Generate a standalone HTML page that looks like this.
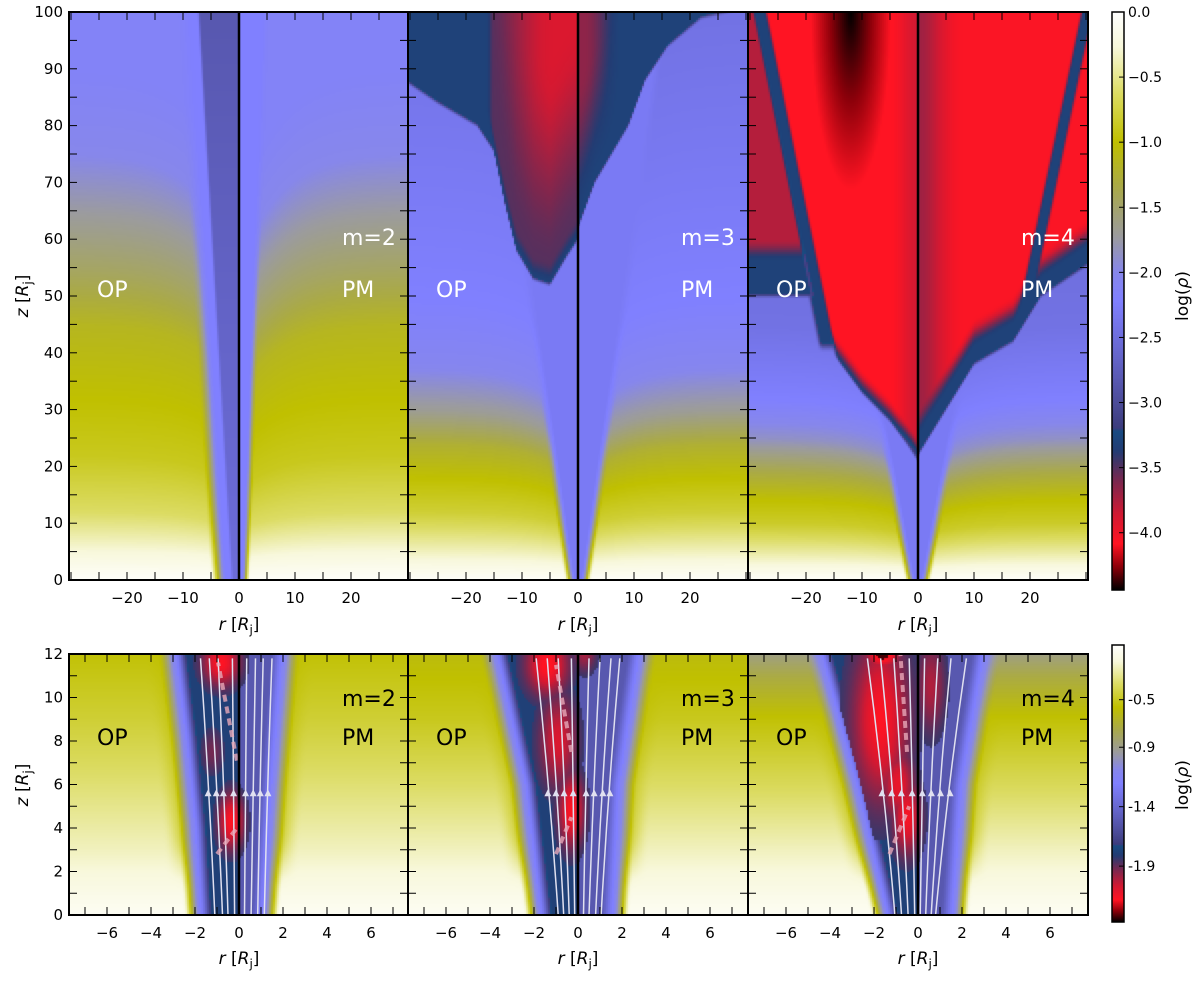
<!DOCTYPE html>
<html><head><meta charset="utf-8"><style>
body{margin:0;background:#fff;}
#wrap{position:relative;width:1200px;height:982px;overflow:hidden;}
#fieldCanvas{position:absolute;left:0;top:0;}
#overlaySvg{position:absolute;left:0;top:0;}
text{font-family:"DejaVu Sans","Liberation Sans",sans-serif;}
</style></head><body>
<div id="wrap">
<canvas id="fieldCanvas" width="1200" height="982"></canvas>
<svg id="overlaySvg" xmlns="http://www.w3.org/2000/svg" width="1200" height="982"></svg>
</div>
<script>
// ---- data arrays ----
var panelModes = [2,3,4];
var topZTicks = [0,10,20,30,40,50,60,70,80,90,100];
var topRTicks = [-20,-10,0,10,20];
var botZTicks = [0,2,4,6,8,10,12];
var botRTicks = [-6,-4,-2,0,2,4,6];
var topCbTicks = [0.0,-0.5,-1.0,-1.5,-2.0,-2.5,-3.0,-3.5,-4.0];
var botCbTicks = [-0.5,-0.9,-1.4,-1.9];
var topCbRange = [0.0,-4.44];
var botCbRange = [-0.04,-2.37];
var L3blue = [[-31,88],[-25,84],[-18,80],[-14,74],[-12,72]];
var L3red = [[-16,80],[-13,66],[-11,58],[-8,53],[-5,52],[-2,57],[0,60]];
var R3blue = [[0,62],[3,70],[6,75],[9,80],[12,88],[16,94],[22,99],[31,101]];
var L4red = [[-31,41],[-16,41],[-10,33],[-5,28],[-2,24],[0,21]];
var R4red = [[0,22],[5,30],[10,38],[17,42],[22,50],[31,56]];
var topBg = {2:[[0,.01],[5,.06],[12,.14],[22,.2],[32,.225],[45,.26],[55,.33],[65,.39],[75,.45],[90,.48],[100,.48]],
 3:[[0,.01],[5,.08],[12,.18],[18,.225],[24,.28],[30,.38],[38,.46],[50,.5],[100,.55]],
 4:[[0,.01],[5,.1],[10,.19],[14,.225],[19,.3],[25,.42],[32,.5],[45,.55],[100,.6]]};
var botBg = {2:[[0,.02],[3,.08],[6,.13],[9,.18],[12,.22]],3:[[0,.02],[3,.08],[6,.14],[9,.2],[12,.24]],4:[[0,.02],[3,.08],[6,.15],[9,.22],[11,.3],[12,.36]]};
var colL = {2:[[0,-1.75],[4,-2.0],[8,-2.4],[12,-2.9]],3:[[0,-1.7],[6,-2.4],[12,-3.7]],4:[[0,-1.4],[6,-2.8],[12,-4.4]]};
var colR = {2:[[0,1.1],[6,1.5],[12,2.0]],3:[[0,1.6],[6,1.9],[12,2.8]],4:[[0,1.6],[6,2.0],[12,3.0]]};
var blobs = {2:[[-0.35,4.3,0.55,1.2,1],[-0.8,11.6,0.8,1.0,1],[-1.2,7.5,0.5,1,0.3]],
 3:[[-0.3,4.8,0.55,1.6,1],[-1.4,11.5,0.9,1.3,1.05],[-0.9,8,0.8,2,0.75],[0.3,12,0.5,0.8,0.5]],
 4:[[-1.7,9,1.2,3.5,1.0],[-0.5,4.5,0.6,1.6,0.95],[-1.6,12,0.7,0.6,1.3],[-0.9,6,0.7,1.5,0.85],[0.6,10.5,0.6,2,0.55]]};
var streamL = {2:[[-1.1,-1.75],[-0.75,-1.35],[-0.5,-0.95],[-0.2,-0.3]],3:[[-0.9,-1.9],[-0.65,-1.4],[-0.4,-0.9],[-0.15,-0.3]],4:[[-1.05,-2.3],[-0.75,-1.7],[-0.45,-1.1],[-0.15,-0.4]]};
var streamR = {2:[[0.25,0.35],[0.55,0.75],[0.85,1.1],[1.15,1.5]],3:[[0.25,0.5],[0.5,1.0],[0.8,1.5],[1.05,1.9]],4:[[0.1,0.3],[0.35,0.9],[0.6,1.5],[0.8,2.2]]};
var dashes = {2:[[-1.0,2.8,-0.1,4.0],[-0.1,7.1,-0.95,11.6]],3:[[-1.0,2.8,-0.3,4.5],[-0.3,7.5,-1.0,11.5]],4:[[-1.3,2.8,-0.4,5.0],[-0.5,7.5,-0.8,12]]};
var cmapStops = [[0,255,255,255],[.06,248,248,220],[.14,220,220,100],[.225,192,192,0],[.3,170,170,70],[.39,155,155,160],[.45,135,135,235],[.5,128,128,255],[.6,100,100,200],[.68,75,75,150],[.72,60,60,125],[.725,25,75,130],[.76,35,60,115],[.81,120,40,80],[.87,210,25,50],[.92,255,20,35],[.96,140,0,10],[1,0,0,0]];

var TOPP={y0:12,y1:580,zmax:100,sx:5.6};
var BOTP={y0:654,y1:915,zmax:12,sx:22};
var px0=[69,408,748], px1=[408,748,1088], cxs=[239,578,918];
function topY(z){return TOPP.y1-z*(TOPP.y1-TOPP.y0)/TOPP.zmax;}
function botY(z){return BOTP.y1-z*(BOTP.y1-BOTP.y0)/BOTP.zmax;}
function ss(a,b,x){var t=(x-a)/(b-a);t=t<0?0:t>1?1:t;return t*t*(3-2*t);}
function lin(p,x){if(x<=p[0][0])return p[0][1];for(var i=1;i<p.length;i++){if(x<=p[i][0]){var a=p[i-1],b=p[i];return a[1]+(b[1]-a[1])*(x-a[0])/(b[0]-a[0]);}}return p[p.length-1][1];}
function mix(a,b,w){return a+(b-a)*w;}
function cmap(f){f=Math.max(0,Math.min(1,f));for(var i=1;i<cmapStops.length;i++){if(f<=cmapStops[i][0]){var a=cmapStops[i-1],b=cmapStops[i];var w=(f-a[0])/(b[0]-a[0]);return [mix(a[1],b[1],w),mix(a[2],b[2],w),mix(a[3],b[3],w)];}}return [0,0,0];}

function topF(m,r,z){
 var a=Math.abs(r);
 var ze=z*(1+0.35*Math.exp(-a/6));
 var f=lin(topBg[m],ze), w, zb, zr, v;
 if(m===2){
  if(r<0){w=1.2+0.06*z;f=mix(f,.5,1-ss(w+1,w+4,a));f=mix(f,.57+.07*z/100,1-ss(w-0.3,w+0.3,a));}
  else{w=0.5+0.035*z;f=mix(f,.5,1-ss(w,w+1.5,a));}
 }else{
  var k=m===3?0.14:0.18;w=0.5+k*z;f=mix(f,.52,1-ss(w,w+2,a));
 }
 if(m===3){
  if(r<0){
   zb=lin(L3blue,r);f=mix(f,.745,ss(zb-.5,zb+.5,z)*(1-ss(-12.5,-11.5,r)));
   zr=lin(L3red,r);w=ss(zr-.5,zr+.5,z)*ss(-16.5,-15,r);
   v=.79+.09*ss(zr+2,zr+40,z)*ss(-17,-4,r);
   v=mix(.745,v,ss(zr,zr+4,z));
   f=mix(f,v,w);
  }else{
   zb=lin(R3blue,r);v=.745+.08*ss(8,1,r)*ss(zb,zb+25,z);f=mix(f,v,ss(zb-.5,zb+.5,z));
  }
 }
 if(m===4){
  if(r<0){
   var rl=-16-(z-41)*12/58;var zA=lin(L4red,r);
   var inA=ss(rl+0.5,rl+1.5,r)*ss(zA-.5,zA+.5,z);
   var inB=(1-ss(rl-1.5,rl-0.5,r))*ss(49.5,50.5,z);
   var band=(1-ss(1,2,Math.abs(r-rl)))*ss(40,42,z);
   var vA=.92-.175*(1-ss(zA,zA+4,z))-.05*ss(-5,0,r);
   var q1=(r+12)/5.5,q2=(z-100)/24;
   var dd=Math.sqrt(q1*q1+q2*q2);
   if(dd<1.3)vA=Math.max(vA,.92+.08*(1-dd/1.3));
   var vB=mix(.745,.85,ss(56,60,z));
   f=mix(f,.745,band*(1-inA)*(1-inB));f=mix(f,vA,inA);f=mix(f,vB,inB);
  }else{
   zb=lin(R4red,r);v=.745+(.17-.08*ss(8,0,r))*ss(zb+3,zb+8,z);
   if(z>43){var rl2=18+(z-43)*12/56;v=mix(v,.745,1-ss(0.6,1.4,Math.abs(r-rl2)));}
   f=mix(f,v,ss(zb-.5,zb+.5,z));
  }
 }
 return f;
}
function botF(m,r,z){
 var bg=lin(botBg[m],z);
 var L=lin(colL[m],z),R=lin(colR[m],z);
 var d=Math.min(r-L,R-r);
 bg=mix(bg,Math.max(bg,.225),(1-ss(0,1.5,-d))*ss(1,4,z));
 var inner=r<0?.75:.64;
 var f=d>0?mix(.5,inner,ss(0,0.6,d)):mix(bg,.47,ss(-0.8,0,d));
 var bl=blobs[m];
 for(var i=0;i<bl.length;i++){var b=bl[i];var q=(r-b[0])/b[2],p=(z-b[1])/b[3];var g=b[4]*Math.exp(-q*q-p*p);if(g>0.08&&d>0.2)f=Math.max(f,.76+.16*Math.min(g,1)+(g>1.1?.06:0));}
 return f;
}

// ---- SVG overlay ----
var NS='http://www.w3.org/2000/svg';
var svgRoot=document.getElementById('overlaySvg');
function mk(tag,attrs,parent){var e=document.createElementNS(NS,tag);for(var k in attrs)e.setAttribute(k,attrs[k]);(parent||svgRoot).appendChild(e);return e;}
function tx(x,y,s,attrs){var a={x:x,y:y};for(var k in attrs)a[k]=attrs[k];var t=mk('text',a);t.textContent=s;return t;}
function tsp(parent,s,attrs){var t=mk('tspan',attrs||{},parent);t.textContent=s;return t;}
function rLabel(t){tsp(t,'r',{'font-style':'italic'});tsp(t,' [');tsp(t,'R',{'font-style':'italic'});tsp(t,'j',{'font-size':12,dy:4});tsp(t,']',{dy:-4});}
function zLabel(t){tsp(t,'z',{'font-style':'italic'});tsp(t,' [');tsp(t,'R',{'font-style':'italic'});tsp(t,'j',{'font-size':12,dy:4});tsp(t,']',{dy:-4});}
function fmt(v){return (v<0?'\u2212':'')+Math.abs(v);}

try{
for(var i=0;i<3;i++){
 var m=panelModes[i],cx=cxs[i],x0=px0[i],x1=px1[i];
 var g=mk('g',{});
 
 
 var sl=streamL[m].concat(streamR[m]);
 for(var j=0;j<sl.length;j++){var s=sl[j];
  var xa=cx+s[0]*BOTP.sx,xb=cx+s[1]*BOTP.sx,xm=cx+(s[0]*0.6+s[1]*0.4)*BOTP.sx;
  mk('path',{d:'M'+xa+','+BOTP.y1+' Q'+xm+','+botY(6)+' '+xb+','+botY(11.8),stroke:'#e0e0f0',fill:'none','stroke-width':1.5},g);
  var xr=cx+(s[0]+(s[1]-s[0])*0.47)*BOTP.sx,ya=botY(5.6);
  mk('path',{d:'M'+(xr-3.5)+','+(ya+3)+' L'+(xr+3.5)+','+(ya+3)+' L'+xr+','+(ya-4)+' Z',fill:'#e0e0f0'},g);
 }
 var ds=dashes[m];
 for(j=0;j<ds.length;j++){var dq=ds[j];mk('line',{x1:cx+dq[0]*BOTP.sx,y1:botY(dq[1]),x2:cx+dq[2]*BOTP.sx,y2:botY(dq[3]),stroke:'#e8a8b8','stroke-width':4,'stroke-dasharray':'7,5',opacity:0.8},g);}
 var PP=[TOPP,BOTP];
 for(j=0;j<2;j++){var P=PP[j];
  var l=mk('line',{x1:cx,y1:P.y0,x2:cx,y2:P.y1,stroke:'#000','stroke-width':2.5});
  
  
  var fr=mk('rect',{x:x0,y:P.y0,width:x1-x0,height:P.y1-P.y0,fill:'none',stroke:'#000','stroke-width':2});
  
  
 }
 for(var r=-30;r<=30;r+=5){var x=cx+r*TOPP.sx;if(x<=x0+1||x>=x1-1)continue;
  mk('line',{x1:x,y1:TOPP.y1,x2:x,y2:TOPP.y1-8,stroke:'#000'});
  mk('line',{x1:x,y1:TOPP.y0,x2:x,y2:TOPP.y0+8,stroke:'#000'});}
 for(j=0;j<topRTicks.length;j++){var t1=tx(cx+topRTicks[j]*TOPP.sx,603,fmt(topRTicks[j]),{'font-size':15,'text-anchor':'middle'});
  
  }
 for(r=-7;r<=7;r++){x=cx+r*BOTP.sx;
  mk('line',{x1:x,y1:BOTP.y1,x2:x,y2:BOTP.y1-8,stroke:'#000'});
  mk('line',{x1:x,y1:BOTP.y0,x2:x,y2:BOTP.y0+8,stroke:'#000'});}
 for(j=0;j<botRTicks.length;j++){var t2=tx(cx+botRTicks[j]*BOTP.sx,938,fmt(botRTicks[j]),{'font-size':15,'text-anchor':'middle'});
  
  }
 for(var z=5;z<100;z+=5){var y=topY(z);
  mk('line',{x1:x0,y1:y,x2:x0+8,y2:y,stroke:'#000'});mk('line',{x1:x1,y1:y,x2:x1-8,y2:y,stroke:'#000'});}
 for(z=1;z<12;z++){y=botY(z);
  mk('line',{x1:x0,y1:y,x2:x0+8,y2:y,stroke:'#000'});mk('line',{x1:x1,y1:y,x2:x1-8,y2:y,stroke:'#000'});}
 var tys=[630,964];
 for(j=0;j<2;j++){var tt=mk('text',{x:cx,y:tys[j],'text-anchor':'middle','font-size':17,'font-family':'Liberation Serif, serif'});
  rLabel(tt);
  
  }
 var dx=x0-69;
 var a1=tx(342+dx,245,'m='+m,{'font-size':22,fill:'#fff'});
 var a2=tx(97+dx,297,'OP',{'font-size':22,fill:'#fff'});
 var a3=tx(342+dx,297,'PM',{'font-size':22,fill:'#fff'});
 var b1=tx(342+dx,706,'m='+m,{'font-size':22,fill:'#000'});
 var b2=tx(97+dx,745,'OP',{'font-size':22,fill:'#000'});
 var b3=tx(342+dx,745,'PM',{'font-size':22,fill:'#000'});
}
for(i=0;i<topZTicks.length;i++){var ta=tx(63,topY(topZTicks[i])+5,String(topZTicks[i]),{'font-size':15,'text-anchor':'end'});
 
 }
for(i=0;i<botZTicks.length;i++){var tb=tx(63,botY(botZTicks[i])+5,String(botZTicks[i]),{'font-size':15,'text-anchor':'end'});
 
 }
var ycs=[296,785];
for(i=0;i<2;i++){var tz=mk('text',{x:0,y:0,'text-anchor':'middle','font-size':17,transform:'translate(28,'+ycs[i]+') rotate(-90)','font-family':'Liberation Serif, serif'});
 zLabel(tz);
 
 }
function cbar(y0,y1,range,ticks,labY,dec){
 var rr=mk('rect',{x:1112,y:y0,width:12,height:y1-y0,fill:'none',stroke:'#000','stroke-width':1.5});
 
 
 for(var q=0;q<ticks.length;q++){var v=ticks[q];var yy=y0+(v-range[0])/(range[1]-range[0])*(y1-y0);
  mk('line',{x1:1124,y1:yy,x2:1119,y2:yy,stroke:'#000'});
  var s=dec?(v<0?'\u2212':'')+Math.abs(v).toFixed(1):String(v);
  var tl=tx(1128,yy+5,s,{'font-size':14});
  
  }
 var tc=mk('text',{x:0,y:0,'text-anchor':'middle','font-size':17,transform:'translate(1188,'+labY+') rotate(-90)','font-family':'Liberation Serif, serif'});
 tsp(tc,'log(');tsp(tc,'\u03c1',{'font-style':'italic'});tsp(tc,')');
 
 
}
cbar(12,590,topCbRange,topCbTicks,296,true);
cbar(645,922,botCbRange,botCbTicks,785,false);
}catch(e){}

// ---- fields on canvas ----
try{
var cnv=document.getElementById('fieldCanvas');
var ctx2=cnv.getContext('2d');
ctx2.fillStyle='#fff';ctx2.fillRect(0,0,1200,982);
function paint(xa,xb,ya,yb,fn){
 for(var y=ya;y<yb;y+=2){for(var x=xa;x<xb;x+=2){var c=cmap(fn(x+1,y+1));
  ctx2.fillStyle='rgb('+Math.round(c[0])+','+Math.round(c[1])+','+Math.round(c[2])+')';
  ctx2.fillRect(x,y,Math.min(2,xb-x),Math.min(2,yb-y));}}
}
for(var pi=0;pi<3;pi++){(function(pi){var m=panelModes[pi],cx=cxs[pi];
 paint(px0[pi],px1[pi],TOPP.y0,TOPP.y1,function(x,y){return topF(m,(x-cx)/TOPP.sx,(TOPP.y1-y)*TOPP.zmax/(TOPP.y1-TOPP.y0));});
 paint(px0[pi],px1[pi],BOTP.y0,BOTP.y1,function(x,y){return botF(m,(x-cx)/BOTP.sx,(BOTP.y1-y)*BOTP.zmax/(BOTP.y1-BOTP.y0));});
})(pi);}
var gr1=ctx2.createLinearGradient(0,12,0,590),gr2=ctx2.createLinearGradient(0,645,0,922);
for(var si=0;si<cmapStops.length;si++){var st=cmapStops[si];var col='rgb('+st[1]+','+st[2]+','+st[3]+')';gr1.addColorStop(st[0],col);gr2.addColorStop(st[0],col);}
ctx2.fillStyle=gr1;ctx2.fillRect(1112,12,12,578);
ctx2.fillStyle=gr2;ctx2.fillRect(1112,645,12,277);
}catch(e){}
</script>
</body></html>
